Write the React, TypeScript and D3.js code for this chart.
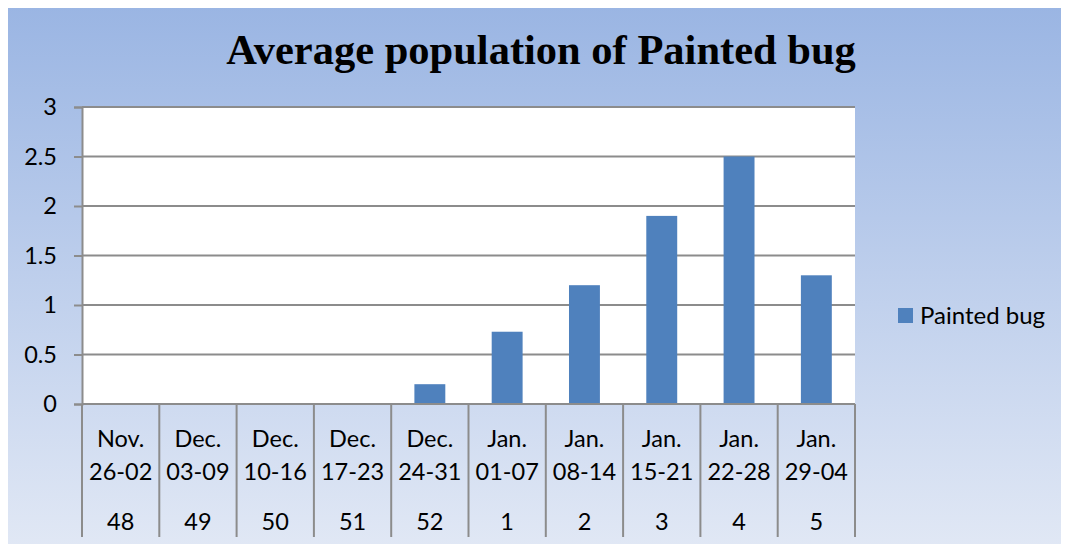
import { useEffect, useRef } from 'react'
import * as d3 from 'd3'

// chart data
const months = ['Nov.', 'Dec.', 'Dec.', 'Dec.', 'Dec.', 'Jan.', 'Jan.', 'Jan.', 'Jan.', 'Jan.']
const ranges = ['26-02', '03-09', '10-16', '17-23', '24-31', '01-07', '08-14', '15-21', '22-28', '29-04']
const weeks = ['48', '49', '50', '51', '52', '1', '2', '3', '4', '5']
const values = [0, 0, 0, 0, 0.2, 0.73, 1.2, 1.9, 2.5, 1.3]
const yTicks = [0, 0.5, 1, 1.5, 2, 2.5, 3]

const W = 1069
const H = 552
const BAR = '#4f81bd'
const GRID = '#8c8c8c'
const FONT = 'Lato, "Open Sans", sans-serif'
const FS = 23.5

function App() {
  const ref = useRef<SVGSVGElement>(null)

  useEffect(() => {
    if (!ref.current) return
    const svg = d3.select(ref.current)
    svg.selectAll('*').remove()

    const margin = { top: 107, right: 214, bottom: 148, left: 82 }
    const cw = W - margin.left - margin.right
    const ch = H - margin.top - margin.bottom

    // background gradient
    const defs = svg.append('defs')
    const grad = defs.append('linearGradient')
      .attr('id', 'bg')
      .attr('x1', 0).attr('y1', 0).attr('x2', 0).attr('y2', 1)
    grad.append('stop').attr('offset', '0%').attr('stop-color', '#9ab5e3')
    grad.append('stop').attr('offset', '100%').attr('stop-color', '#e1e8f5')

    svg.append('rect')
      .attr('x', 5.5).attr('y', 4.5)
      .attr('width', W - 8).attr('height', H - 8)
      .attr('fill', 'url(#bg)')
      .attr('stroke', '#8a8a8a')
      .attr('stroke-width', 2)

    // title
    svg.append('text')
      .attr('x', 541)
      .attr('y', 64)
      .attr('text-anchor', 'middle')
      .attr('font-family', '"Liberation Serif", "Times New Roman", serif')
      .attr('font-weight', 'bold')
      .attr('font-size', 42.5)
      .attr('fill', '#000')
      .text('Average population of Painted bug')

    const g = svg.append('g').attr('transform', `translate(${margin.left},${margin.top})`)

    const x = d3.scaleBand<number>()
      .domain(d3.range(values.length))
      .range([0, cw])
      .paddingInner(0.6)
      .paddingOuter(0.3)

    const band = cw / values.length

    const y = d3.scaleLinear().domain([0, 3]).range([ch, 0])

    // plot area
    g.append('rect')
      .attr('width', cw).attr('height', ch)
      .attr('fill', '#fff')

    // gridlines
    g.selectAll('.grid')
      .data(yTicks.filter(d => d > 0))
      .enter()
      .append('line')
      .attr('x1', 0).attr('x2', cw)
      .attr('y1', d => y(d)).attr('y2', d => y(d))
      .attr('stroke', GRID)
      .attr('stroke-width', 2)

    // bars
    g.selectAll('.bar')
      .data(values)
      .enter()
      .append('rect')
      .attr('x', (_, i) => x(i)!)
      .attr('width', x.bandwidth())
      .attr('y', d => y(d))
      .attr('height', d => ch - y(d))
      .attr('fill', BAR)

    // y axis
    const yAxis = g.append('g').call(
      d3.axisLeft(y).tickValues(yTicks).tickSize(8).tickPadding(17)
        .tickFormat(d => String(d))
    )
    yAxis.select('.domain').attr('stroke', GRID).attr('stroke-width', 2)
    yAxis.selectAll('.tick line').attr('stroke', GRID).attr('stroke-width', 2)
    yAxis.selectAll('.tick text')
      .attr('font-family', FONT)
      .attr('font-size', FS)
      .attr('fill', '#000')

    // category axis baseline and separators
    g.append('line')
      .attr('x1', 0).attr('x2', cw)
      .attr('y1', ch).attr('y2', ch)
      .attr('stroke', GRID).attr('stroke-width', 2)

    g.selectAll('.sep')
      .data(d3.range(values.length + 1))
      .enter()
      .append('line')
      .attr('x1', i => i * band).attr('x2', i => i * band)
      .attr('y1', ch).attr('y2', ch + 133)
      .attr('stroke', GRID).attr('stroke-width', 2)

    const rows: [string[], number][] = [[months, 43], [ranges, 76], [weeks, 126]]
    rows.forEach(([labels, dy]) => {
      g.selectAll(null)
        .data(labels)
        .enter()
        .append('text')
        .attr('x', (_, i) => x(i)! + x.bandwidth() / 2)
        .attr('y', ch + dy)
        .attr('text-anchor', 'middle')
        .attr('font-family', FONT)
        .attr('font-size', FS)
        .attr('fill', '#000')
        .text(d => d)
    })

    // legend
    const lg = svg.append('g').attr('transform', 'translate(898,308)')
    lg.append('rect').attr('width', 15).attr('height', 15).attr('fill', BAR)
    lg.append('text')
      .attr('x', 22).attr('y', 16)
      .attr('font-family', FONT)
      .attr('font-size', 24)
      .attr('fill', '#000')
      .text('Painted bug')
  }, [])

  return <svg ref={ref} width={W} height={H} style={{ display: 'block', margin: -8 }} />
}

export default App
